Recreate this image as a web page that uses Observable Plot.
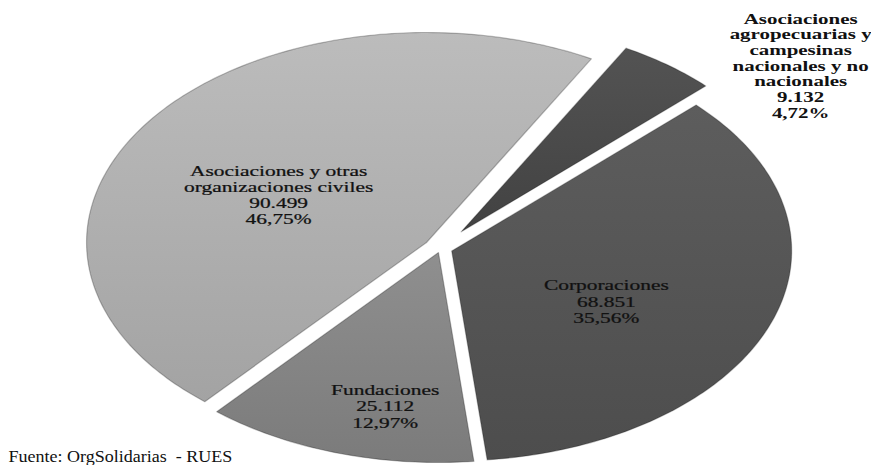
<!DOCTYPE html>
<html>
<head>
<meta charset="utf-8">
<script src="https://cdn.jsdelivr.net/npm/d3@7"></script>
<script src="https://cdn.jsdelivr.net/npm/@observablehq/plot@0.6"></script>
<style>
  html, body { margin: 0; padding: 0; background: #fff; }
  #chart svg { display: block; }
</style>
</head>
<body>
<div id="chart"></div>
<script>
// ---------- data ----------
const categories = [
  "Asociaciones agropecuarias y campesinas nacionales y no nacionales",
  "Corporaciones",
  "Fundaciones",
  "Asociaciones y otras organizaciones civiles"
];
const values = [9132, 68851, 25112, 90499];
const labelLines = [
  ["Asociaciones", "agropecuarias y", "campesinas", "nacionales y no", "nacionales"],
  ["Corporaciones"],
  ["Fundaciones"],
  ["Asociaciones y otras", "organizaciones civiles"]
];
const sourceText = "Fuente: OrgSolidarias  - RUES";

// ---------- layout / style ----------
const W = 871, H = 465;
const RX = 340, RY = 210, CX = 440, CY = 248;   // pie ellipse in pixels
const startDeg = 29;
const explode = [0.1, 0.035, 0.02, 0.05];
const labelRadius = [1.371, 0.549, 0.769, 0.541];
const labelShiftDeg = [13.1, 7.3, -5.15, -6.5];
const gradients = [
  ["#535353", "#424242"],
  ["#5d5d5d", "#4d4d4d"],
  ["#8f8f8f", "#7b7b7b"],
  ["#bcbcbc", "#a3a3a3"]
];
const serif = `"Liberation Serif", "Times New Roman", serif`;

// horizontal stretch so text widths match the (stretched) reference
const ctx = document.createElement("canvas").getContext("2d");
function measure(text, font) { ctx.font = font; return ctx.measureText(text).width; }
const sLabel = 125 / measure("Corporaciones", `15px ${serif}`);
const sAgro = 114 / measure("Asociaciones", `bold 15px ${serif}`);
const sSource = 224 / measure(sourceText, `16px ${serif}`);

// ---------- build geometry from data ----------
const locale = d3.formatLocale({decimal: ",", thousands: ".", grouping: [3], currency: ["", ""]});
const fmtInt = locale.format(",d");
const total = d3.sum(values);
const start = startDeg * Math.PI / 180;
const arcs = d3.pie().sort(null).startAngle(start).endAngle(start + 2 * Math.PI)(values);

const slices = arcs.map((a, i) => {
  const mid = (a.startAngle + a.endAngle) / 2;
  const ox = explode[i] * Math.sin(mid), oy = explode[i] * Math.cos(mid);
  const n = Math.max(8, Math.ceil((a.endAngle - a.startAngle) * 180 / Math.PI));
  const pts = [{x: ox, y: oy}];
  for (let k = 0; k <= n; k++) {
    const t = a.startAngle + (a.endAngle - a.startAngle) * k / n;
    pts.push({x: ox + Math.sin(t), y: oy + Math.cos(t)});
  }
  pts.push({x: ox, y: oy});
  return pts;
});

const labels = arcs.map((a, i) => {
  const mid = (a.startAngle + a.endAngle) / 2 + labelShiftDeg[i] * Math.PI / 180;
  const pct = (values[i] / total * 100).toFixed(2).replace(".", ",") + "%";
  return {
    i,
    x: labelRadius[i] * Math.sin(mid),
    y: labelRadius[i] * Math.cos(mid),
    text: [...labelLines[i], fmtInt(values[i]), pct].join("\n")
  };
});

const marks = slices.map((pts, i) => Plot.line(pts, {
  x: "x", y: "y", curve: "linear",
  fill: `url(#sliceGrad${i})`,
  stroke: "#000", strokeOpacity: 0.25, strokeWidth: 1.2, strokeLinejoin: "round"
}));

marks.push(Plot.text(labels.filter(d => d.i !== 0), {
  x: "x", y: "y", text: "text",
  fontFamily: serif, fontSize: 15, lineHeight: 1.07, fill: "#111",
  stroke: "#111", strokeWidth: 0.25,
  textAnchor: "middle", lineAnchor: "middle"
}));
marks.push(Plot.text(labels.filter(d => d.i === 0), {
  x: "x", y: "y", text: "text",
  fontFamily: serif, fontSize: 15, fontWeight: "bold", lineHeight: 1.05, fill: "#111",
  textAnchor: "middle", lineAnchor: "middle"
}));
marks.push(Plot.text([sourceText], {
  frameAnchor: "bottom-left", dx: 8, dy: -9, text: d => d,
  fontFamily: serif, fontSize: 16, fill: "#111",
  textAnchor: "start", lineAnchor: "middle"
}));

const svg = Plot.plot({
  width: W, height: H,
  margin: 0,
  x: {domain: [-CX / RX, (W - CX) / RX], axis: null},
  y: {domain: [(CY - H) / RY, CY / RY], axis: null},
  style: {background: "#fff", overflow: "hidden"},
  marks
});

// gradient definitions
const defs = d3.select(svg).insert("defs", ":first-child");
gradients.forEach((g, i) => {
  const lg = defs.append("linearGradient").attr("id", `sliceGrad${i}`)
    .attr("x1", 0).attr("y1", 0).attr("x2", 0).attr("y2", 1);
  lg.append("stop").attr("offset", "0%").attr("stop-color", g[0]);
  lg.append("stop").attr("offset", "100%").attr("stop-color", g[1]);
});

// horizontal stretch of the labels
d3.select(svg).selectAll("text").each(function () {
  const t = this.textContent;
  const s = t.startsWith("Fuente") ? sSource : t.includes("agropecuarias") ? sAgro : sLabel;
  const tr = this.getAttribute("transform");
  if (tr) {
    this.setAttribute("transform", `${tr} scale(${s},1)`);
  } else {
    const x = +this.getAttribute("x") || 0;
    const y = +this.getAttribute("y") || 0;
    this.setAttribute("x", 0); this.setAttribute("y", 0);
    this.setAttribute("transform", `translate(${x},${y}) scale(${s},1)`);
  }
});

document.getElementById("chart").appendChild(svg);
</script>
</body>
</html>
